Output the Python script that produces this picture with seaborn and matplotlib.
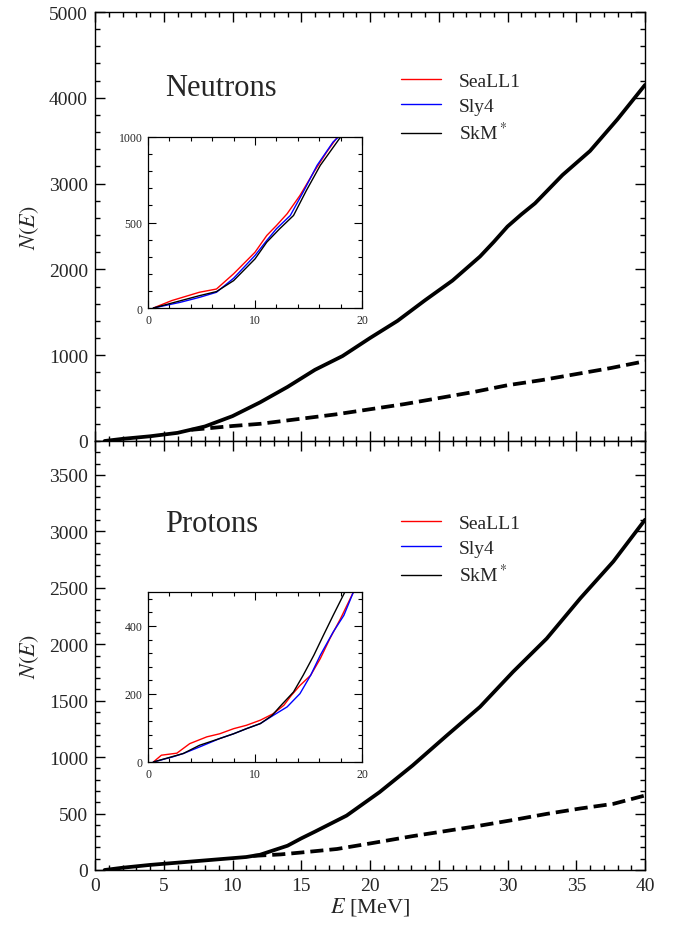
import numpy as np
import pandas as pd
import matplotlib
matplotlib.use("Agg")
import matplotlib.pyplot as plt
from matplotlib.ticker import MultipleLocator
import seaborn as sns

# ---------------- data ----------------
# Neutrons, main panel
E_n_tot = [0.7, 2, 4, 6, 8, 10, 12, 14, 16, 18, 20, 22, 24, 26, 28, 29, 30, 31, 32, 34, 36, 38, 40]
N_n_tot = [0, 25, 55, 95, 170, 290, 450, 630, 830, 990, 1200, 1400, 1640, 1870, 2150, 2320, 2500, 2640, 2770, 3100, 3380, 3750, 4150]
E_n_part = [7, 10, 12, 15, 17.5, 20, 22.5, 25, 27.5, 30, 32.5, 35, 37.5, 40]
N_n_part = [130, 175, 200, 260, 310, 370, 430, 500, 570, 650, 710, 780, 850, 930]

# Protons, main panel
E_p_tot = [0.7, 2, 4, 6, 8, 10, 11, 12, 13, 14, 15, 16, 18.3, 20.7, 23.1, 25.6, 28, 30.4, 32.85, 35.3, 37.7, 40]
N_p_tot = [0, 20, 45, 65, 85, 105, 115, 135, 175, 215, 280, 340, 482, 690, 926, 1193, 1445, 1755, 2050, 2407, 2733, 3102]
E_p_part = [11.5, 13.5, 15, 17.6, 20, 23.1, 25.5, 28, 30.5, 32.85, 35.3, 37.7, 40]
N_p_part = [125, 138, 155, 186, 235, 300, 345, 393, 445, 497, 545, 586, 660]

# Neutron inset
E_n_sea = [0.5, 2.2, 4.8, 6.4, 8, 10, 11.1, 12, 13, 14.2, 15.5, 16.7, 17.7]
N_n_sea = [0, 43, 92, 111, 200, 326, 424, 482, 551, 658, 795, 912, 1000]
E_n_sly = [0.5, 3, 4.8, 6.4, 8, 10, 11.1, 12, 13.3, 14.5, 15.8, 17.3, 17.8]
N_n_sly = [0, 33, 62, 92, 174, 307, 395, 463, 541, 678, 834, 971, 1000]
E_n_skm = [0.5, 4.8, 6.4, 8, 10, 11.1, 12.3, 13.6, 14.8, 16.1, 18]
N_n_skm = [0, 72, 96, 160, 287, 385, 463, 541, 687, 834, 1000]

# Proton inset
E_p_sea = [0.5, 1.25, 2.7, 3.9, 5.5, 6.7, 8, 9.2, 10.5, 11.7, 12.7, 13.4, 14.2, 15.2, 16.1, 17, 18, 19.2]
N_p_sea = [0, 20, 26, 54, 74, 83, 98, 108, 123, 142, 167, 196, 225, 255, 304, 363, 422, 500]
E_p_sly = [0.5, 2.3, 3.3, 4.8, 6.7, 8, 9.2, 10.5, 11.7, 13, 14.2, 15.2, 16.1, 17.3, 18.3, 19.2]
N_p_sly = [0, 15, 25, 44, 69, 83, 98, 113, 137, 162, 201, 255, 314, 382, 431, 500]
E_p_skm = [0.5, 3.3, 4.8, 6.7, 8, 9.2, 10.5, 11.6, 12.3, 13.6, 14.5, 15.5, 16.4, 17.3, 18.4]
N_p_skm = [0, 25, 49, 69, 83, 98, 113, 137, 162, 206, 255, 314, 373, 431, 500]

labels = ["SeaLL1", "Sly4", r"SkM$^*$"]
colors = ["#ff0000", "#0000ff", "#000000"]

# ---------------- style ----------------
sns.set_theme(style="ticks")
plt.rcParams["font.family"] = ["Liberation Serif", "DejaVu Serif"]
plt.rcParams["mathtext.fontset"] = "stix"
plt.rcParams["axes.linewidth"] = 1.0
plt.rcParams["axes.edgecolor"] = "black"

fig = plt.figure(figsize=(6.78, 9.29), dpi=100)
L, W = 95 / 678, 550 / 678
ax_top = fig.add_axes([L, 1 - 442 / 929, W, 429 / 929])
ax_bot = fig.add_axes([L, 1 - 871 / 929, W, 429 / 929])
in_top = fig.add_axes([148 / 678, 1 - 309 / 929, 214 / 678, 171 / 929])
in_bot = fig.add_axes([148 / 678, 1 - 763 / 929, 214 / 678, 170 / 929])


def line(ax, x, y, **kw):
    sns.lineplot(x=x, y=y, ax=ax, sort=False, estimator=None, **kw)


dash = (0, (3.5, 1.6))
line(ax_top, E_n_part, N_n_part, color="black", lw=2.7, linestyle=dash)
line(ax_top, E_n_tot, N_n_tot, color="black", lw=2.7)
line(ax_bot, E_p_part, N_p_part, color="black", lw=2.7, linestyle=dash)
line(ax_bot, E_p_tot, N_p_tot, color="black", lw=2.7)

for ax, sets in [(in_top, [(E_n_sea, N_n_sea), (E_n_sly, N_n_sly), (E_n_skm, N_n_skm)]),
                 (in_bot, [(E_p_sea, N_p_sea), (E_p_sly, N_p_sly), (E_p_skm, N_p_skm)])]:
    for (x, y), c in zip(sets, colors):
        line(ax, x, y, color=c, lw=1.0)

# main axes formatting
for ax, ymax, major, minor in [(ax_top, 5000, 1000, 200), (ax_bot, 3800, 500, 100)]:
    ax.set_xlim(0, 40)
    ax.set_ylim(0, ymax)
    ax.xaxis.set_major_locator(MultipleLocator(5))
    ax.xaxis.set_minor_locator(MultipleLocator(1))
    ax.yaxis.set_major_locator(MultipleLocator(major))
    ax.yaxis.set_minor_locator(MultipleLocator(minor))
    ax.tick_params(which="both", direction="in", top=True, right=True,
                   width=1.0, color="black", labelsize=14, pad=5)
    ax.tick_params(which="major", length=7)
    ax.tick_params(which="minor", length=3.5)
    ax.set_ylabel(r"$N(E)$", fontsize=16, labelpad=6)
    ax.set_xlabel("")
    for s in ax.spines.values():
        s.set_color("black")
        s.set_linewidth(1.0)

ax_top.tick_params(labelbottom=False)
ax_bot.set_xlabel(r"$E$ [MeV]", fontsize=16, labelpad=1)

for ax, ymax, major, minor in [(in_top, 1000, 500, 100), (in_bot, 500, 200, 40)]:
    ax.set_xlim(0, 20)
    ax.set_ylim(0, ymax)
    ax.xaxis.set_major_locator(MultipleLocator(10))
    ax.xaxis.set_minor_locator(MultipleLocator(2))
    ax.yaxis.set_major_locator(MultipleLocator(major))
    ax.yaxis.set_minor_locator(MultipleLocator(minor))
    ax.tick_params(which="both", direction="in", top=True, right=True,
                   width=0.8, color="black", labelsize=8.5, pad=4)
    ax.tick_params(which="major", length=6)
    ax.tick_params(which="minor", length=3)
    ax.set_xlabel("")
    ax.set_ylabel("")
    for s in ax.spines.values():
        s.set_color("black")
        s.set_linewidth(0.9)

# titles
fig.text(165 / 678, 1 - 88 / 929, "Neutrons", fontsize=22, va="center", ha="left")
fig.text(165 / 678, 1 - 524 / 929, "Protons", fontsize=22, va="center", ha="left")

# legends
handles = in_top.get_lines()[:3]
for ax, ytop in [(ax_top, 60), (ax_bot, 502)]:
    leg = ax.legend(handles, labels, loc="upper left",
                    bbox_to_anchor=(387 / 678, 1 - ytop / 929),
                    bbox_transform=fig.transFigure, frameon=False,
                    fontsize=14, handlelength=2.1, handletextpad=0.9,
                    labelspacing=0.35, borderpad=0.2)

fig.savefig("out.png", dpi=100)
